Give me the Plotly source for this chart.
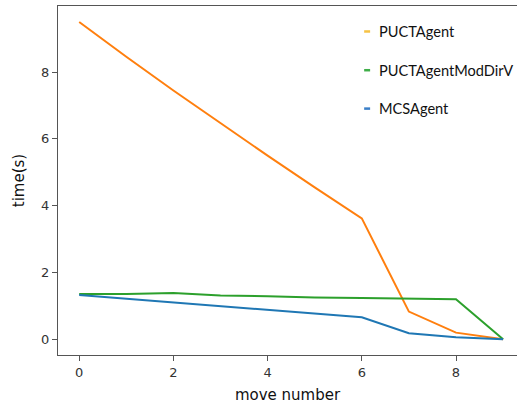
import plotly.graph_objects as go

# Time per move for each agent
moves = [0, 1, 2, 3, 4, 5, 6, 7, 8, 9]
puct_agent = [9.50, 8.46, 7.45, 6.47, 5.50, 4.55, 3.62, 0.83, 0.20, 0.00]
puct_mod_dirv = [1.36, 1.36, 1.39, 1.31, 1.29, 1.25, 1.24, 1.22, 1.20, 0.00]
mcs_agent = [1.33, 1.22, 1.11, 1.00, 0.90, 0.78, 0.66, 0.18, 0.06, 0.00]

series_names = ["PUCTAgent", "PUCTAgentModDirV", "MCSAgent"]
line_colors = ["#ff7f0e", "#2ca02c", "#1f77b4"]
key_colors = ["#f6c244", "#3fae49", "#3a7fc8"]

fig = go.Figure()
for name, ys, col in zip(series_names, [puct_agent, puct_mod_dirv, mcs_agent], line_colors):
    fig.add_trace(go.Scatter(x=moves, y=ys, mode="lines", name=name,
                             line=dict(color=col, width=2), showlegend=False))

# Key: short coloured dashes with labels, top right
key_y = [0.927, 0.816, 0.706]
for name, col, ky in zip(series_names, key_colors, key_y):
    fig.add_shape(type="line", xref="paper", yref="paper",
                  x0=0.667, x1=0.680, y0=ky, y1=ky,
                  line=dict(color=col, width=2.5))
    fig.add_annotation(xref="paper", yref="paper", x=0.694, y=ky,
                       text=name, showarrow=False, xanchor="left", yanchor="middle",
                       font=dict(family="Lato, Open Sans, sans-serif", size=14.6, color="#111"))

axis_font = dict(family="DejaVu Sans", size=13, color="#333")
fig.update_layout(
    width=517, height=406,
    margin=dict(l=58, r=0, t=6, b=51),
    plot_bgcolor="white", paper_bgcolor="white",
    xaxis=dict(range=[-0.45, 9.295], tickvals=[0, 2, 4, 6, 8],
               showgrid=False, zeroline=False, showline=True, linecolor="#555",
               linewidth=1, mirror=True, ticks="outside", ticklen=5, tickcolor="#555",
               tickfont=axis_font,
               title=dict(text="move number", standoff=10,
                          font=dict(family="DejaVu Sans", size=15, color="#111"))),
    yaxis=dict(range=[-0.47, 9.98], tickvals=[0, 2, 4, 6, 8],
               showgrid=False, zeroline=False, showline=True, linecolor="#555",
               linewidth=1, ticks="outside", ticklen=5, tickcolor="#555",
               tickfont=axis_font,
               title=dict(text="time(s)", standoff=12,
                          font=dict(family="DejaVu Sans", size=15, color="#111"))),
)

fig.write_html("out.html")
